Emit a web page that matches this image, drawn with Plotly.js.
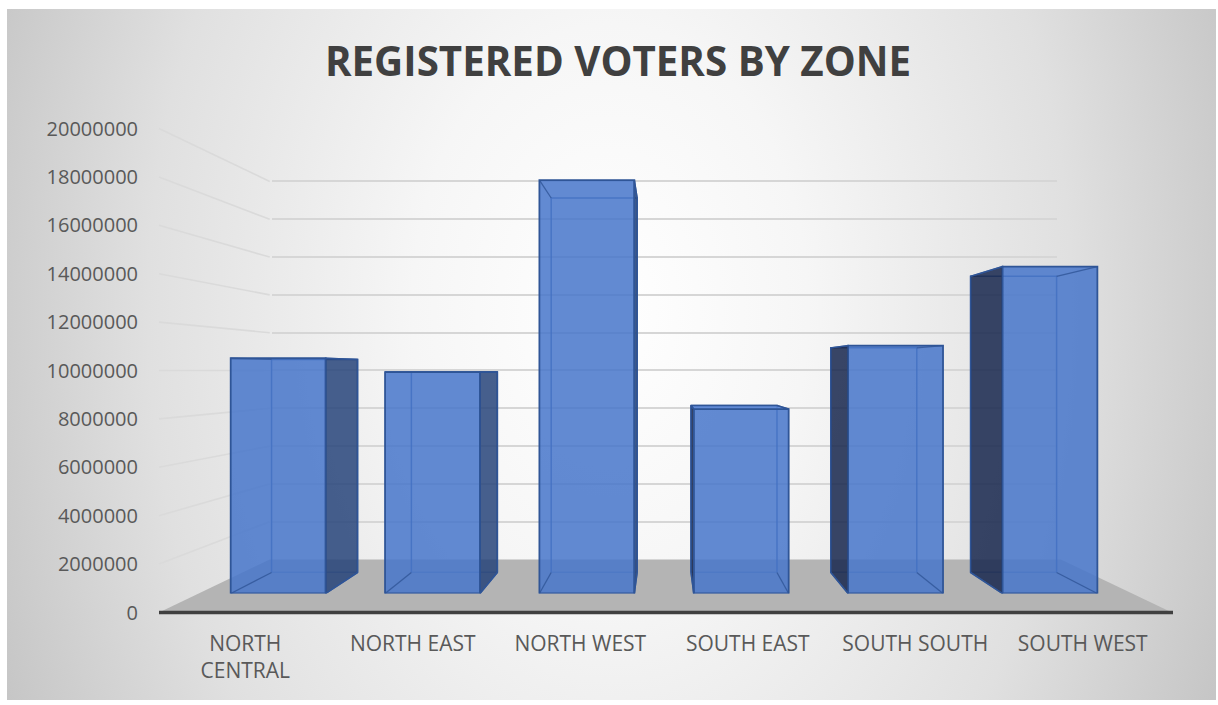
<!DOCTYPE html>
<html>
<head>
<meta charset="utf-8">
<script src="https://cdn.plot.ly/plotly-3.0.1.min.js"></script>
<style>
  html, body { margin: 0; padding: 0; background: #ffffff; }
  #wrap { position: relative; width: 1218px; height: 705px; overflow: hidden; background: #ffffff; }
  #bg { position: absolute; left: 7px; top: 9px; width: 1209px; height: 691px;
        background: radial-gradient(ellipse 660px 950px at 603px 300px, #ffffff 0%, #f6f6f6 30%, #e0e0e0 70%, #c6c6c6 100%); }
  #chart { position: absolute; left: 0; top: 0; width: 1218px; height: 705px; }
</style>
</head>
<body>
<div id="wrap"><div id="bg"></div><div id="chart"></div></div>
<script>
// ---------------- data ----------------
const CATEGORIES = ['NORTH CENTRAL', 'NORTH EAST', 'NORTH WEST', 'SOUTH EAST', 'SOUTH SOUTH', 'SOUTH WEST'];
const CATEGORY_TICK_LABELS = ['NORTH<br>CENTRAL', 'NORTH EAST', 'NORTH WEST', 'SOUTH EAST', 'SOUTH SOUTH', 'SOUTH WEST'];
const REGISTERED_VOTERS = [10550000, 9930000, 18540000, 8270000, 11120000, 14660000];
const Y_TICK_VALUES = [0, 2000000, 4000000, 6000000, 8000000, 10000000, 12000000, 14000000, 16000000, 18000000, 20000000];
const Y_TICK_LABELS = ['0', '2000000', '4000000', '6000000', '8000000', '10000000', '12000000', '14000000', '16000000', '18000000', '20000000'];
const TITLE = 'REGISTERED VOTERS BY ZONE';

// ---------------- perspective geometry (layout only) ----------------
const W = 1218, H = 705;
const YMAX = 20000000;
const VPX = 664.5;          // vanishing x
const HOR = 370.5;          // horizon y
const HALF = 242;           // floor-front distance below horizon at depth 1
const PXV = 24.2 / 1e6;     // px per voter at depth 1
const X0 = 161.5, STEP = 167.5, NCAT = CATEGORIES.length;
const S_FRONT = 0.9215, S_BACK = 0.8347, S_WALL = 0.781;
const BAR_W = 0.615;
const FLOOR_L = 159, FLOOR_R = 1172;

const sx = (X, s) => VPX + (X - VPX) * s;
const sy = (v, s) => HOR + s * (HALF - v * PXV);
const px = x => x / W;
const py = y => 1 - y / H;
const xDomain = s => [px(sx(X0, s)), px(sx(X0 + NCAT * STEP, s))];
const yDomain = (s, top) => [py(sy(0, s)), py(sy(top || YMAX, s))];

// convert a world point to data units of the front-face subplot (x4/y4)
function toFront(X, v, s) {
  const a = sx(X0, S_FRONT), b = sx(X0 + NCAT * STEP, S_FRONT);
  const y0 = sy(0, S_FRONT), y1 = sy(YMAX, S_FRONT);
  return [-0.5 + (sx(X, s) - a) / (b - a) * NCAT, (y0 - sy(v, s)) / (y0 - y1) * YMAX];
}

const idx = CATEGORIES.map((_, i) => i);
const FONT = 'Open Sans, Noto Sans, sans-serif';
const EDGE = '#2F5597';
const WALL_TOP = YMAX * 1.05;   // a little headroom so the top gridline is drawn

const traces = [];
// front-edge axis subplot (carries the tick labels) and back wall subplot (carries the gridlines)
traces.push({
  type: 'scatter', mode: 'markers', x: idx, y: REGISTERED_VOTERS, xaxis: 'x', yaxis: 'y',
  marker: { opacity: 0, size: 1 }, hoverinfo: 'skip', showlegend: false
});
traces.push({
  type: 'scatter', mode: 'markers', x: idx, y: REGISTERED_VOTERS, xaxis: 'x2', yaxis: 'y2',
  marker: { opacity: 0, size: 1 }, hoverinfo: 'skip', showlegend: false
});
// back faces (outlines seen through)
traces.push({
  type: 'bar', x: idx, y: REGISTERED_VOTERS, xaxis: 'x3', yaxis: 'y3', width: BAR_W,
  marker: { color: 'rgba(0,0,0,0)', line: { color: 'rgba(47,85,151,0.85)', width: 1.5 } },
  hoverinfo: 'skip', showlegend: false
});
// front faces
traces.push({
  type: 'bar', x: idx, y: REGISTERED_VOTERS, xaxis: 'x4', yaxis: 'y4', width: BAR_W,
  marker: { color: 'rgba(70,118,202,0.85)', line: { color: EDGE, width: 1.8 } },
  hovertext: CATEGORIES, hovertemplate: '%{hovertext}: %{y}<extra></extra>', showlegend: false
});
// side and top faces, depth edges
const edgeX = [], edgeY = [];
REGISTERED_VOTERS.forEach((v, i) => {
  const c = X0 + STEP * (i + 0.5);
  const L = c - BAR_W * STEP / 2, R = c + BAR_W * STEP / 2;
  let sideX = null, sideFill = null;
  if (R < VPX) { sideX = R; sideFill = 'rgba(36,66,120,0.84)'; }
  else if (L > VPX) { sideX = L; sideFill = 'rgba(24,40,78,0.86)'; }
  if (sideX !== null) {
    const pts = [toFront(sideX, 0, S_FRONT), toFront(sideX, v, S_FRONT), toFront(sideX, v, S_BACK), toFront(sideX, 0, S_BACK), toFront(sideX, 0, S_FRONT)];
    traces.push({
      type: 'scatter', mode: 'lines', xaxis: 'x4', yaxis: 'y4', fill: 'toself',
      x: pts.map(p => p[0]), y: pts.map(p => p[1]),
      fillcolor: sideFill, line: { color: EDGE, width: 1.5 },
      hoverinfo: 'skip', showlegend: false
    });
  }
  if (sy(v, S_FRONT) > sy(v, S_BACK)) {
    const pts = [toFront(L, v, S_FRONT), toFront(R, v, S_FRONT), toFront(R, v, S_BACK), toFront(L, v, S_BACK), toFront(L, v, S_FRONT)];
    traces.push({
      type: 'scatter', mode: 'lines', xaxis: 'x4', yaxis: 'y4', fill: 'toself',
      x: pts.map(p => p[0]), y: pts.map(p => p[1]),
      fillcolor: 'rgba(84,130,212,0.9)', line: { color: EDGE, width: 1.5 },
      hoverinfo: 'skip', showlegend: false
    });
  }
  [[L, 0], [R, 0], [L, v], [R, v]].forEach(([X, h]) => {
    const a = toFront(X, h, S_FRONT), b = toFront(X, h, S_BACK);
    edgeX.push(a[0], b[0], null); edgeY.push(a[1], b[1], null);
  });
});
traces.push({
  type: 'scatter', mode: 'lines', xaxis: 'x4', yaxis: 'y4', x: edgeX, y: edgeY,
  line: { color: 'rgba(47,85,151,0.8)', width: 1.3 }, hoverinfo: 'skip', showlegend: false
});

// ---------------- decorations: floor, side wall gridlines, axis line ----------------
const shapes = [];
shapes.push({
  type: 'path', xref: 'paper', yref: 'paper', layer: 'below',
  path: `M ${px(sx(FLOOR_L, 1))} ${py(sy(0, 1))} L ${px(sx(FLOOR_R, 1))} ${py(sy(0, 1))} L ${px(sx(FLOOR_R, S_WALL))} ${py(sy(0, S_WALL))} L ${px(sx(FLOOR_L, S_WALL))} ${py(sy(0, S_WALL))} Z`,
  fillcolor: '#b4b4b4', line: { width: 0 }
});
Y_TICK_VALUES.slice(1).forEach(v => {
  shapes.push({
    type: 'line', xref: 'paper', yref: 'paper', layer: 'below',
    x0: px(sx(FLOOR_L, 1)), y0: py(sy(v, 1)), x1: px(sx(FLOOR_L, S_WALL)), y1: py(sy(v, S_WALL)),
    line: { color: '#dadada', width: 1.6 }
  });
});
shapes.push({
  type: 'line', xref: 'paper', yref: 'paper', layer: 'above',
  x0: px(FLOOR_L), y0: py(sy(0, 1)), x1: px(FLOOR_R + 1), y1: py(sy(0, 1)),
  line: { color: '#404040', width: 3.5 }
});

const hiddenX = { showgrid: false, zeroline: false, showticklabels: false, showline: false, ticks: '', range: [-0.5, NCAT - 0.5], fixedrange: true };
const layout = {
  width: W, height: H,
  margin: { l: 0, r: 0, t: 0, b: 0, pad: 0 },
  paper_bgcolor: 'rgba(0,0,0,0)', plot_bgcolor: 'rgba(0,0,0,0)',
  showlegend: false,
  title: {
    text: TITLE, x: 618 / W, xanchor: 'center', y: py(62), yanchor: 'middle', yref: 'paper', xref: 'paper',
    font: { family: FONT, size: 40.3, color: '#404040', weight: 700 }
  },
  xaxis: {
    domain: xDomain(1), range: [-0.5, NCAT - 0.5], anchor: 'y',
    tickmode: 'array', tickvals: idx, ticktext: CATEGORY_TICK_LABELS,
    showgrid: false, zeroline: false, showline: false, ticks: '', ticklabelstandoff: 16,
    tickfont: { family: FONT, size: 21, color: '#595959' }, fixedrange: true
  },
  yaxis: {
    domain: yDomain(1), range: [0, YMAX], anchor: 'free', position: 138 / W,
    tickmode: 'array', tickvals: Y_TICK_VALUES, ticktext: Y_TICK_LABELS,
    showgrid: false, zeroline: false, showline: false, ticks: '',
    tickfont: { family: FONT, size: 20, color: '#595959' }, fixedrange: true
  },
  xaxis2: Object.assign({ domain: xDomain(S_WALL), anchor: 'y2' }, hiddenX),
  yaxis2: {
    domain: yDomain(S_WALL, WALL_TOP), range: [0, WALL_TOP], anchor: 'x2',
    tickmode: 'array', tickvals: Y_TICK_VALUES.slice(1), showticklabels: false, ticks: '',
    showgrid: true, gridcolor: '#d6d6d6', gridwidth: 2, zeroline: false, showline: false, fixedrange: true
  },
  xaxis3: Object.assign({ domain: xDomain(S_BACK), anchor: 'y3' }, hiddenX),
  yaxis3: { domain: yDomain(S_BACK), range: [0, YMAX], anchor: 'x3', showgrid: false, zeroline: false, showticklabels: false, ticks: '', fixedrange: true },
  xaxis4: Object.assign({ domain: xDomain(S_FRONT), anchor: 'y4' }, hiddenX),
  yaxis4: { domain: yDomain(S_FRONT), range: [0, YMAX], anchor: 'x4', showgrid: false, zeroline: false, showticklabels: false, ticks: '', fixedrange: true },
  shapes: shapes
};

Plotly.newPlot('chart', traces, layout, { displayModeBar: false, staticPlot: true });
</script>
</body>
</html>
